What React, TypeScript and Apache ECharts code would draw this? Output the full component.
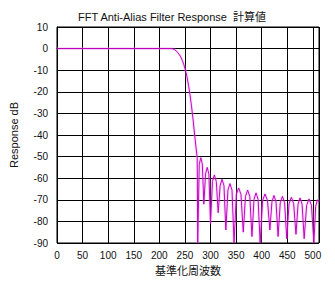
import React, { useEffect, useRef } from "react";
import * as echarts from "echarts";

const titleText = "FFT Anti-Alias Filter Response  計算値";
const xAxisName = "基準化周波数";
const yAxisName = "Response dB";

// normalized frequency (bin) and response in dB
const freq = [
  0, 225, 230, 236, 241, 245, 248, 251, 254, 257, 260, 263, 266, 269, 272, 274,
  275, 278, 281, 284,
  287, 290.3, 293.5, 296.8,
  300, 303.8, 307.5, 311.3,
  315, 318.8, 322.5, 326.3,
  330, 334, 338, 342,
  346, 350.5, 355, 359.5,
  364, 368.3, 372.5, 376.8,
  381, 385, 389, 393,
  397, 401.8, 406.5, 411.3,
  416, 420, 424, 428,
  432, 436.3, 440.5, 444.8,
  449, 453.5, 458, 462.5,
  467, 471, 475, 479,
  483, 487.8, 492.5, 497.3,
  502, 505.5, 509, 512,
];
const responseDb = [
  0, 0, -0.5, -1.8, -3.5, -5.5, -7.5, -10, -13, -17, -21.5, -27, -33, -40, -46.5, -50.5,
  -90, -53.5, -50.5, -53.5,
  -72, -58, -55, -58,
  -81, -61.5, -58.5, -61.5,
  -76, -63.5, -60.5, -63.5,
  -84, -65.5, -62.5, -65.5,
  -90, -67.5, -64.5, -67.5,
  -85, -68.5, -65.5, -68.5,
  -87, -69.8, -66.8, -69.8,
  -90, -70.3, -67.3, -70.3,
  -84, -71, -68, -71,
  -87, -71.4, -68.4, -71.4,
  -88, -71.8, -68.8, -71.8,
  -86, -72.1, -69.1, -72.1,
  -88, -72.6, -69.6, -72.6,
  -90, -73, -70, -71,
];

export default function App() {
  const ref = useRef<HTMLDivElement>(null);
  useEffect(() => {
    if (!ref.current) return;
    const chart = echarts.init(ref.current, undefined, { renderer: "svg" });
    const data = freq.map((f, i) => [f, responseDb[i]]);
    const font = "'Liberation Sans', 'Noto Sans CJK JP', sans-serif";
    chart.setOption({
      animation: false,
      backgroundColor: "#ffffff",
      title: {
        text: titleText,
        left: 167,
        top: 6,
        textAlign: "center",
        textStyle: { fontSize: 11, fontWeight: "normal", color: "#111", fontFamily: font },
      },
      grid: {
        left: 52,
        top: 27,
        right: 16,
        bottom: 45,
        show: true,
        borderColor: "#000",
        borderWidth: 1,
        backgroundColor: "transparent",
      },
      xAxis: {
        type: "value",
        min: 0,
        max: 512,
        interval: 50,
        name: xAxisName,
        nameLocation: "middle",
        nameGap: 22,
        nameTextStyle: { fontSize: 11, color: "#111", fontFamily: font },
        axisLine: { show: true, lineStyle: { color: "#000", width: 1 } },
        axisTick: { show: false },
        axisLabel: { fontSize: 10, color: "#111", margin: 7, fontFamily: font, showMaxLabel: false },
        splitLine: { show: true, lineStyle: { color: "#000", width: 1 } },
      },
      yAxis: {
        type: "value",
        min: -90,
        max: 10,
        interval: 10,
        name: yAxisName,
        nameLocation: "middle",
        nameGap: 38,
        nameTextStyle: { fontSize: 11, color: "#111", fontFamily: font },
        axisLine: { show: true, lineStyle: { color: "#000", width: 1 } },
        axisTick: { show: false },
        axisLabel: { fontSize: 10, color: "#111", margin: 9, fontFamily: font },
        splitLine: { show: true, lineStyle: { color: "#000", width: 1 } },
      },
      series: [
        {
          type: "line",
          data,
          showSymbol: false,
          silent: true,
          lineStyle: { color: "rgba(230,150,230,0.3)", width: 3 },
          z: 2,
        },
        {
          type: "line",
          data,
          showSymbol: false,
          lineStyle: { color: "#c800c8", width: 1 },
          z: 3,
        },
      ],
    });
    return () => chart.dispose();
  }, []);
  return (
    <div
      ref={ref}
      style={{ position: "fixed", left: 0, top: 0, width: 335, height: 288, background: "#fff" }}
    />
  );
}
